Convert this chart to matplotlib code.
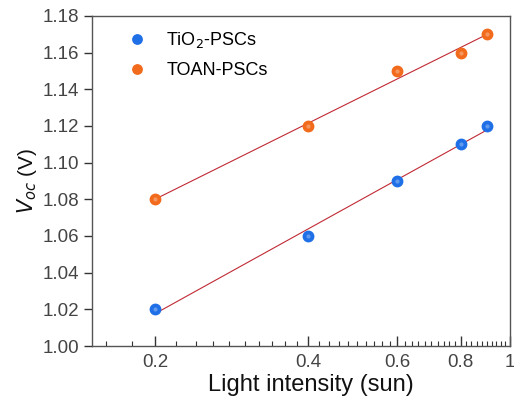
import numpy as np
import matplotlib.pyplot as plt
from matplotlib.ticker import FixedLocator, MultipleLocator, FormatStrFormatter, NullFormatter

plt.rcParams['font.family'] = ['Liberation Sans', 'DejaVu Sans']

light = [0.2, 0.4, 0.6, 0.8, 0.9]
voc_tio2 = [1.02, 1.06, 1.09, 1.11, 1.12]
voc_toan = [1.08, 1.12, 1.15, 1.16, 1.17]

x_major = [0.2, 0.4, 0.6, 0.8, 1.0]
x_major_labels = ['0.2', '0.4', '0.6', '0.8', '1']

blue = '#1f6fe6'
orange = '#f26a1b'
fit_color = '#c02a35'


def draw_series(ax, x, y, color, label):
    # linear fit of Voc against log(intensity)
    k, b = np.polyfit(np.log10(x), y, 1)
    xf = np.array([min(x), max(x)])
    ax.plot(xf, k * np.log10(xf) + b, color=fit_color, lw=0.8, zorder=2)
    ax.plot(x, y, 'o', ms=7.5, color=color, mec=color, label=label, zorder=3)
    # small highlight to give the balls some shine
    ax.plot(x, y, 'o', ms=3, color='white', alpha=0.3, zorder=4,
            markeredgewidth=0)


fig = plt.figure(figsize=(5.14, 4.09), dpi=100)
ax = fig.add_axes([0.179, 0.154, 0.813, 0.807])

draw_series(ax, light, voc_tio2, blue, 'TiO$_2$-PSCs')
draw_series(ax, light, voc_toan, orange, 'TOAN-PSCs')

ax.set_xscale('log')
ax.set_xlim(0.15, 1.0)
ax.set_ylim(1.00, 1.18)

ax.xaxis.set_major_locator(FixedLocator(x_major))
ax.set_xticklabels(x_major_labels)
ax.xaxis.set_minor_locator(FixedLocator(np.arange(0.16, 1.0, 0.02)))
ax.xaxis.set_minor_formatter(NullFormatter())
ax.yaxis.set_major_locator(MultipleLocator(0.02))
ax.yaxis.set_major_formatter(FormatStrFormatter('%.2f'))

ax.tick_params(axis='x', which='major', direction='in', length=7, width=1,
               labelsize=13.5, labelcolor='#444444', pad=6, color='#333333')
ax.tick_params(axis='x', which='minor', direction='in', length=3.5, width=0.8,
               color='#333333')
ax.tick_params(axis='y', which='major', direction='out', length=6, width=1,
               labelsize=13.5, labelcolor='#444444', color='#333333')

for s in ax.spines.values():
    s.set_color('#555555')
    s.set_linewidth(1)

ax.set_xlabel('Light intensity (sun)', fontsize=17, color='#111111',
              labelpad=2)
ax.xaxis.set_label_coords(0.524, -0.085)
ax.set_ylabel('$V_{oc}$ (V)', fontsize=15, color='#111111', labelpad=2)

ax.legend(loc='upper left', frameon=False, fontsize=13, handletextpad=0.6,
          borderaxespad=0.3, labelspacing=0.65, markerscale=0.9,
          bbox_to_anchor=(0.035, 0.995))

fig.savefig('out.png', dpi=100)
